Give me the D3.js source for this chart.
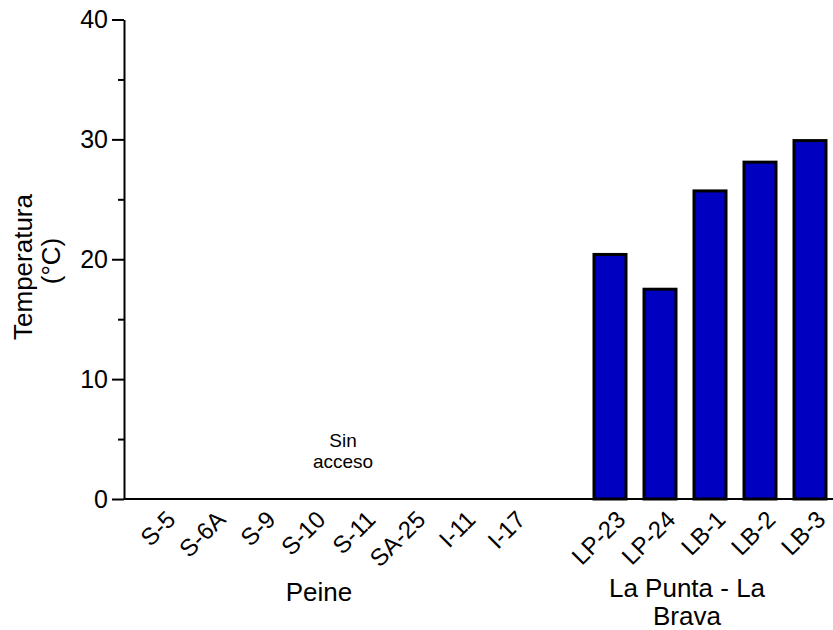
<!DOCTYPE html>
<html>
<head>
<meta charset="utf-8">
<script src="https://cdn.jsdelivr.net/npm/d3@7"></script>
<style>
  html, body { margin: 0; padding: 0; background: #fff; }
  svg { display: block; font-family: "Liberation Sans", Arial, Helvetica, sans-serif; }
</style>
</head>
<body>
<svg id="chart" width="833" height="630"></svg>
<script>
// Sampling sites, grouped by sector
const peineSites = ["S-5", "S-6A", "S-9", "S-10", "S-11", "SA-25", "I-11", "I-17"];
const laPuntaSites = ["LP-23", "LP-24", "LB-1", "LB-2", "LB-3"];

// Water temperature (°C); Peine sites had no access (no measurement)
const peineTemp = [null, null, null, null, null, null, null, null];
const laPuntaTemp = [20.4, 17.5, 25.7, 28.1, 29.9];

// Axis ticks
const yMajorTicks = [0, 10, 20, 30, 40];
const yMinorTicks = [5, 15, 25, 35];

const GAP = "__gap__";
const categories = [...peineSites, GAP, ...laPuntaSites];
const values = [...peineTemp, null, ...laPuntaTemp];
const data = categories.map((c, i) => ({ site: c, temp: values[i] }));

const svg = d3.select("#chart");
const axisX = 124, baseY = 499, topY = 19.5, rightX = 833;

const x = d3.scaleBand()
  .domain(categories)
  .range([135, 835])
  .paddingInner(0.36)
  .paddingOuter(0.18);

const y = d3.scaleLinear().domain([0, 40]).range([baseY, topY]);

// Bars
svg.append("g")
  .selectAll("rect")
  .data(data.filter(d => d.temp != null))
  .join("rect")
  .attr("x", d => x(d.site))
  .attr("y", d => y(d.temp))
  .attr("width", x.bandwidth())
  .attr("height", d => y(0) - y(d.temp))
  .attr("fill", "#0000c0")
  .attr("stroke", "#000")
  .attr("stroke-width", 3);

// Y axis: major ticks with labels
const yAxis = svg.append("g")
  .attr("transform", `translate(${axisX},0)`)
  .call(d3.axisLeft(y).tickValues(yMajorTicks).tickSize(12).tickSizeOuter(0).tickPadding(4));
yAxis.selectAll("text").attr("font-size", 25).attr("fill", "#000").attr("font-family", null);
yAxis.selectAll("line, path").attr("stroke", "#000").attr("stroke-width", 2);

// Y axis: minor ticks
const yMinor = svg.append("g")
  .attr("transform", `translate(${axisX},0)`)
  .call(d3.axisLeft(y).tickValues(yMinorTicks).tickSize(6).tickFormat(""));
yMinor.select(".domain").remove();
yMinor.selectAll("line").attr("stroke", "#000").attr("stroke-width", 2);

// X axis baseline
svg.append("line")
  .attr("x1", axisX).attr("x2", rightX)
  .attr("y1", baseY).attr("y2", baseY)
  .attr("stroke", "#000").attr("stroke-width", 2);

// X axis labels, rotated
const xAxis = svg.append("g")
  .attr("transform", `translate(0,${baseY})`)
  .call(d3.axisBottom(x).tickSize(0).tickFormat(d => d === GAP ? "" : d));
xAxis.select(".domain").remove();
xAxis.selectAll("text")
  .attr("font-size", 24)
  .attr("fill", "#000")
  .attr("font-family", null)
  .attr("text-anchor", "end")
  .attr("y", 0)
  .attr("dy", 0)
  .attr("transform", "translate(17,22) rotate(-45)");

// Y axis title
const yTitle = svg.append("text")
  .attr("font-size", 26)
  .attr("text-anchor", "middle")
  .attr("transform", "translate(32,267) rotate(-90)");
yTitle.append("tspan").attr("x", 0).attr("y", 0).text("Temperatura");
yTitle.append("tspan").attr("x", 6).attr("y", 28).text("(°C)");

// Group labels
svg.append("text")
  .attr("x", 319).attr("y", 601)
  .attr("font-size", 26).attr("text-anchor", "middle")
  .text("Peine");

const grp2 = svg.append("text")
  .attr("font-size", 26).attr("text-anchor", "middle");
grp2.append("tspan").attr("x", 687).attr("y", 597).text("La Punta - La");
grp2.append("tspan").attr("x", 687).attr("y", 625).text("Brava");

// Note for Peine sites
const note = svg.append("text")
  .attr("font-size", 19).attr("text-anchor", "middle");
note.append("tspan").attr("x", 343).attr("y", 447).text("Sin");
note.append("tspan").attr("x", 343).attr("y", 468).text("acceso");
</script>
</body>
</html>
